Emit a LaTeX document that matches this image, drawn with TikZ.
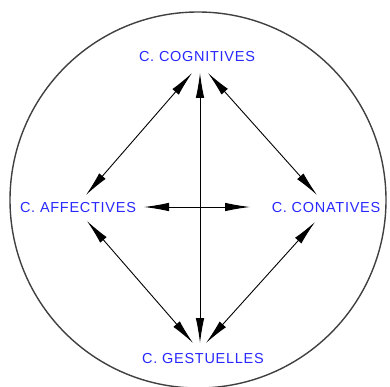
\documentclass[tikz,border=0pt]{standalone}
\usepackage{fontspec}
\setmainfont{Liberation Sans}
\newfontfamily\lblfont[LetterSpace=5]{Liberation Sans}
\usetikzlibrary{arrows.meta}
\definecolor{lblblue}{RGB}{40,40,255}
\begin{document}
\begin{tikzpicture}[x=1pt,y=-1pt,
  lbl/.style={text=lblblue,font=\lblfont\fontsize{14.5}{16}\selectfont,inner sep=0pt},
  conn/.style={draw=black,line width=0.9pt,{Latex[length=25pt,width=8.5pt]}-{Latex[length=25pt,width=8.5pt]}}]
\useasboundingbox (0,0) rectangle (390,387);
\draw[line width=1.4pt,draw=black!75] (198,200) circle (188);
\node[lbl] (cog) at (197,57) {C. COGNITIVES};
\node[lbl] (aff) at (78,208) {C. AFFECTIVES};
\node[lbl] (con) at (326,208) {C. CONATIVES};
\node[lbl] (ges) at (203,359) {C. GESTUELLES};
\coordinate (cogL) at (192,73);
\coordinate (cogM) at (200,73);
\coordinate (cogR) at (208,73);
\coordinate (gesL) at (193,343);
\coordinate (gesM) at (200,343);
\coordinate (gesR) at (206,343);
\coordinate (affT) at (86,195);
\coordinate (affB) at (87,221);
\coordinate (affE) at (144,207);
\coordinate (conT) at (317,195);
\coordinate (conB) at (315,222);
\coordinate (conW) at (250,207);
\draw[conn] (cogL) -- (affT);
\draw[conn] (cogR) -- (conT);
\draw[conn] (cogM) -- (gesM);
\draw[conn] (affB) -- (gesL);
\draw[conn] (conB) -- (gesR);
\draw[conn] (affE) -- (conW);
\end{tikzpicture}
\end{document}
